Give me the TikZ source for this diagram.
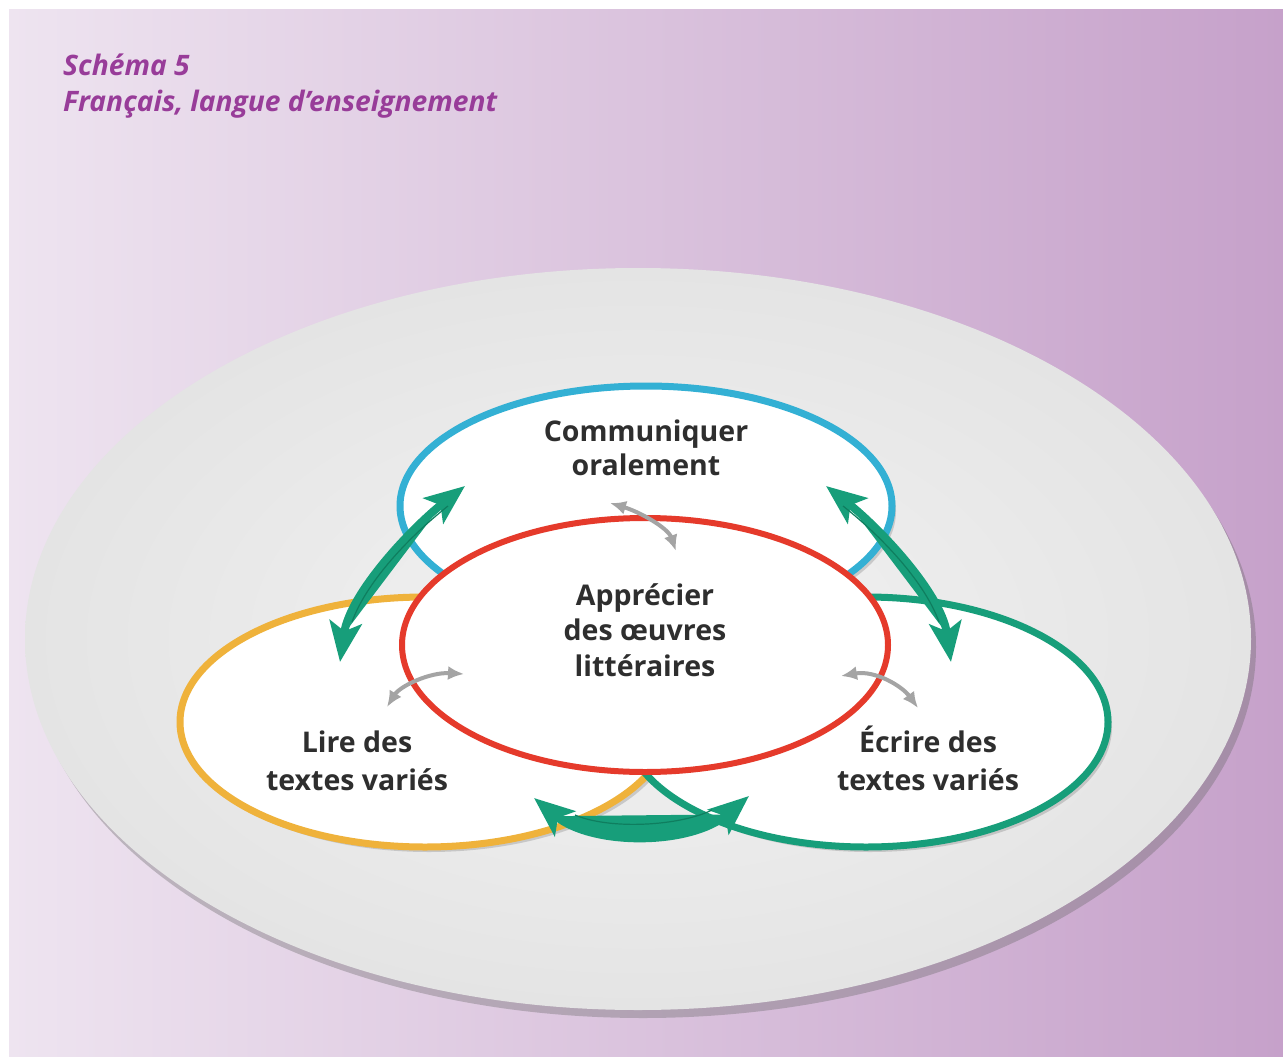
\documentclass[tikz,border=0pt]{standalone}
\usepackage{fontspec}
\setmainfont{Open Sans}
\usetikzlibrary{shadows,arrows.meta}
\definecolor{bgL}{HTML}{EEE4F0}
\definecolor{bgR}{HTML}{C6A1CA}
\definecolor{titlecol}{HTML}{983C99}
\definecolor{plateI}{HTML}{F3F3F3}
\definecolor{plateO}{HTML}{E4E4E4}
\definecolor{cblue}{HTML}{33B0D4}
\definecolor{cred}{HTML}{E53A2B}
\definecolor{corange}{HTML}{EFB23B}
\definecolor{cgreen}{HTML}{179E7A}
\definecolor{cgreenD}{HTML}{0F7E5F}
\definecolor{cgray}{HTML}{A4A4A4}
\definecolor{txt}{HTML}{2E2E2E}
\begin{document}
\begin{tikzpicture}[x=1pt,y=-1pt,
  ring/.style={fill=white, line width=7pt},
  shad/.style={drop shadow={shadow xshift=4pt, shadow yshift=-5pt, opacity=0.22, fill=black!70}},
  lbl/.style={anchor=base, inner sep=0pt, text=txt, font=\fontsize{28.5}{34}\selectfont\bfseries},
  ttl/.style={anchor=base west, inner sep=0pt, text=titlecol, font=\fontsize{28.2}{34}\selectfont\bfseries\itshape},
  bigarrow/.style={draw=cgreen, fill=cgreen, line width=8pt,
    {Stealth[length=40pt,width=32pt,inset=9pt]}-{Stealth[length=40pt,width=32pt,inset=9pt]}},
  seam/.style={draw=cgreenD, line width=1.2pt},
  smallarrow/.style={draw=cgray, line width=4pt, {Latex[length=16pt,width=14pt]}-{Latex[length=16pt,width=14pt]}}
]
\useasboundingbox (0,0) rectangle (1283,1057);
% background
\fill[white] (0,0) rectangle (1283,1057);
\shade[left color=bgL, right color=bgR] (9,10) rectangle (1283,1057);
% title
\node[ttl] (t1) at (63,76) {Schéma 5};
\node[ttl] (t2) at (63,111) {Français, langue d’enseignement};
% plate
\path[inner color=plateI, outer color=plateO,
  drop shadow={shadow xshift=5pt, shadow yshift=-8pt, opacity=0.35, fill=black!60}]
  (638,639) ellipse [x radius=613, y radius=371];
% rings
\path[ring, draw=cblue, shad] (646,506) ellipse [x radius=246, y radius=120];
\path[ring, draw=corange, shad] (425,722) ellipse [x radius=245, y radius=125];
\path[ring, draw=cgreen, shad] (866,722) ellipse [x radius=242, y radius=125];
\path[ring, draw=cred, line width=6pt] (645,645) ellipse [x radius=243, y radius=127];
% labels
\node[lbl] (c1) at (646,441) {Communiquer};
\node[lbl] (c2) at (646,475) {oralement};
\node[lbl] (a1) at (645,605) {Apprécier};
\node[lbl] (a2) at (645,640) {des œuvres};
\node[lbl] (a3) at (645,676) {littéraires};
\node[lbl] (l1) at (357,752) {Lire des};
\node[lbl] (l2) at (357,790) {textes variés};
\node[lbl] (e1) at (928,752) {Écrire des};
\node[lbl] (e2) at (928,790) {textes variés};
% green arrow end points
\coordinate (LT) at (465,486);
\coordinate (LB) at (340,662);
\coordinate (RT) at (826,486);
\coordinate (RB) at (951,662);
\coordinate (BL) at (534,798);
\coordinate (BR) at (749,796);
% green arrows
\draw[bigarrow] (LT) .. controls (414,526) and (350,592) .. (LB);
\draw[seam] (448,506) .. controls (405,540) and (365,585) .. (352,622);
\draw[bigarrow] (RT) .. controls (877,526) and (941,592) .. (RB);
\draw[seam] (843,506) .. controls (886,540) and (926,585) .. (939,622);
\draw[bigarrow] (BL) .. controls (592,846) and (690,846) .. (BR);
\draw[seam] (575,815) .. controls (610,830) and (680,826) .. (712,810);
% small gray arrows
\coordinate (GT1) at (610,503);
\coordinate (GT2) at (676,551);
\coordinate (GL1) at (387,707);
\coordinate (GL2) at (464,674);
\coordinate (GR1) at (841,676);
\coordinate (GR2) at (918,708);
\draw[smallarrow] (GT1) .. controls (640,512) and (668,528) .. (GT2);
\draw[smallarrow] (GL1) .. controls (400,686) and (430,672) .. (GL2);
\draw[smallarrow] (GR1) .. controls (875,670) and (902,686) .. (GR2);
\end{tikzpicture}
\end{document}
